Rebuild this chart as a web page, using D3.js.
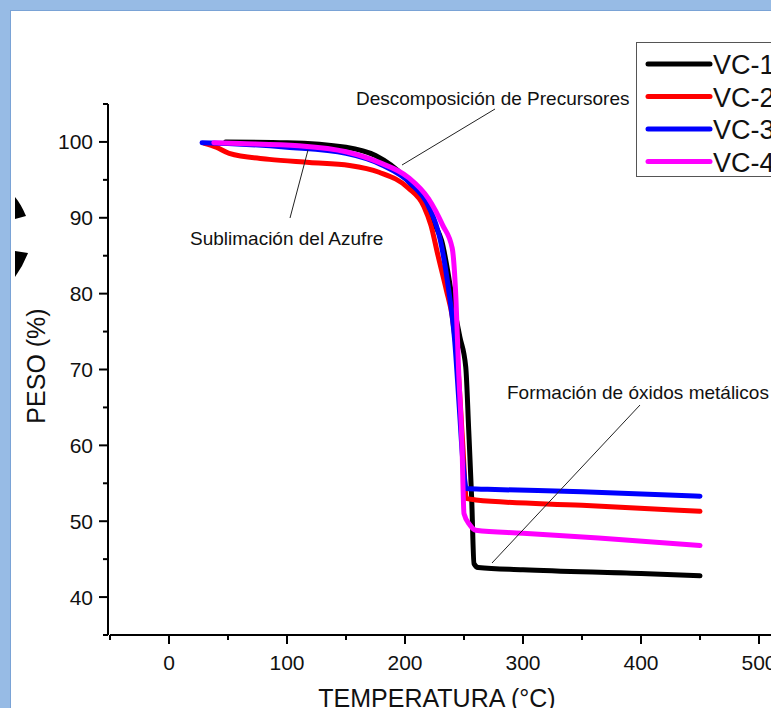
<!DOCTYPE html>
<html>
<head>
<meta charset="utf-8">
<script src="https://cdn.jsdelivr.net/npm/d3@7"></script>
<style>
  body { margin: 0; background: #fff; }
  text { font-family: "Liberation Sans", Arial, sans-serif; fill: #111; }
</style>
</head>
<body>
<div id="chart"></div>
<script>
// temperatures (°C) and weights (%)
var tempVC1 = [48, 100, 150, 175, 200, 215, 225, 231, 241.5, 246.5, 251.5, 254, 256.5, 258.5, 262, 300, 400, 450]
var pesoVC1 = [100, 99.9, 99.3, 98.2, 95.3, 92.3, 89.2, 87, 78.2, 74.3, 70.3, 62, 53, 44.4, 43.9, 43.6, 43.1, 42.8]

var tempVC2 = [30, 40, 51, 85, 119, 153, 178, 203, 216, 222, 228, 235, 240, 245, 249, 252, 260, 350, 450]
var pesoVC2 = [99.8, 99.3, 98.5, 97.7, 97.3, 96.9, 96.0, 93.9, 91.5, 89.0, 85.0, 80.5, 77, 70, 60, 53, 52.8, 52.1, 51.3]

var tempVC3 = [28, 50, 100, 150, 180, 205, 220, 230, 237, 242, 246, 249, 252, 270, 350, 450]
var pesoVC3 = [99.9, 99.8, 99.3, 98.5, 97.0, 94.5, 91.5, 87, 80.5, 74, 65, 58, 54.3, 54.2, 53.9, 53.3]

var tempVC4 = [38, 60, 110, 150, 178, 203, 220, 232, 240, 243.2, 245.4, 248.3, 250, 255, 260, 300, 364, 450]
var pesoVC4 = [99.9, 99.8, 99.5, 98.7, 97.3, 95.3, 92.5, 89, 86, 79.2, 70, 60, 51, 49.5, 48.8, 48.4, 47.8, 46.8]

var seriesNames = ["VC-1", "VC-2", "VC-3", "VC-4"]
var seriesColors = ["#000000", "#ff0000", "#0000ff", "#ff00ff"]

var xMajorTicks = [0, 100, 200, 300, 400, 500]
var xMinorTicks = [-50, 50, 150, 250, 350, 450, 550]
var yMajorTicks = [40, 50, 60, 70, 80, 90, 100]
var yMinorTicks = [35, 45, 55, 65, 75, 85, 95, 105]

var notes = [
  { text: "Descomposición de Precursores", tx: 356, ty: 105, from: [495, 109], to: [402, 165] },
  { text: "Sublimación del Azufre", tx: 190, ty: 245, from: [308, 150], to: [290, 218] },
  { text: "Formación de óxidos metálicos", tx: 507, ty: 399, from: [640, 405], to: [492, 563] }
]

var W = 771, H = 708

var svg = d3.select("#chart").append("svg")
  .attr("width", W)
  .attr("height", H)

// window frame (blue border top and left)
svg.append("rect").attr("x", 0).attr("y", 0).attr("width", W).attr("height", 10).attr("fill", "#97bbe5")
svg.append("rect").attr("x", 0).attr("y", 0).attr("width", 10).attr("height", H).attr("fill", "#97bbe5")
svg.append("line").attr("x1", 10).attr("x2", W).attr("y1", 10.5).attr("y2", 10.5).attr("stroke", "#7aa3d6").attr("stroke-width", 1)
svg.append("line").attr("x1", 10.5).attr("x2", 10.5).attr("y1", 10).attr("y2", H).attr("stroke", "#7aa3d6").attr("stroke-width", 1)

// black wedges at left edge
svg.append("path").attr("d", "M15,197 Q21,204 26,216 L15,219 Z").attr("fill", "#000")
svg.append("path").attr("d", "M15,251 L28,253 Q23,266 15,277 Z").attr("fill", "#000")

var x = d3.scaleLinear().domain([0, 500]).range([169, 759])
var y = d3.scaleLinear().domain([35, 105]).range([635, 104])

// x axis
var xAxisG = svg.append("g").attr("transform", "translate(0," + y(35) + ")")
xAxisG.append("line")
  .attr("x1", x(-50)).attr("x2", W)
  .attr("stroke", "#000").attr("stroke-width", 2)
xAxisG.selectAll(".maj").data(xMajorTicks).enter().append("line")
  .attr("x1", function(d) { return x(d) }).attr("x2", function(d) { return x(d) })
  .attr("y1", 0).attr("y2", 9)
  .attr("stroke", "#000").attr("stroke-width", 2)
xAxisG.selectAll(".min").data(xMinorTicks).enter().append("line")
  .attr("x1", function(d) { return x(d) }).attr("x2", function(d) { return x(d) })
  .attr("y1", 0).attr("y2", 5)
  .attr("stroke", "#000").attr("stroke-width", 2)
xAxisG.selectAll("text").data(xMajorTicks).enter().append("text")
  .attr("x", function(d) { return x(d) })
  .attr("y", 35)
  .attr("text-anchor", "middle")
  .style("font-size", "21px")
  .text(function(d) { return d })

// y axis
var yAxisG = svg.append("g").attr("transform", "translate(108,0)")
yAxisG.append("line")
  .attr("y1", y(105)).attr("y2", y(35))
  .attr("stroke", "#000").attr("stroke-width", 2)
yAxisG.selectAll(".maj").data(yMajorTicks).enter().append("line")
  .attr("y1", function(d) { return y(d) }).attr("y2", function(d) { return y(d) })
  .attr("x1", 0).attr("x2", -9)
  .attr("stroke", "#000").attr("stroke-width", 2)
yAxisG.selectAll(".min").data(yMinorTicks).enter().append("line")
  .attr("y1", function(d) { return y(d) }).attr("y2", function(d) { return y(d) })
  .attr("x1", 0).attr("x2", -5)
  .attr("stroke", "#000").attr("stroke-width", 2)
yAxisG.selectAll("text").data(yMajorTicks).enter().append("text")
  .attr("x", -15)
  .attr("y", function(d) { return y(d) + 7.5 })
  .attr("text-anchor", "end")
  .style("font-size", "21px")
  .text(function(d) { return d })

// axis titles
svg.append("text")
  .attr("transform", "translate(45,366) rotate(-90)")
  .attr("text-anchor", "middle")
  .style("font-size", "25px")
  .text("PESO (%)")
svg.append("text")
  .attr("x", 437).attr("y", 707)
  .attr("text-anchor", "middle")
  .style("font-size", "25px")
  .text("TEMPERATURA (°C)")

// curves
var allSeries = [
  { t: tempVC1, p: pesoVC1 },
  { t: tempVC2, p: pesoVC2 },
  { t: tempVC3, p: pesoVC3 },
  { t: tempVC4, p: pesoVC4 }
]
var line = d3.line()
  .x(function(d) { return x(d[0]) })
  .y(function(d) { return y(d[1]) })
  .curve(d3.curveMonotoneX)

svg.append("g").selectAll("path")
  .data(allSeries)
  .enter()
  .append("path")
    .attr("d", function(s) { return line(d3.zip(s.t, s.p)) })
    .attr("fill", "none")
    .attr("stroke", function(s, i) { return seriesColors[i] })
    .attr("stroke-width", 5)
    .attr("stroke-linecap", "round")
    .attr("stroke-linejoin", "round")

// annotations
var noteG = svg.append("g")
noteG.selectAll("line").data(notes).enter().append("line")
  .attr("x1", function(d) { return d.from[0] }).attr("y1", function(d) { return d.from[1] })
  .attr("x2", function(d) { return d.to[0] }).attr("y2", function(d) { return d.to[1] })
  .attr("stroke", "#222").attr("stroke-width", 1)
noteG.selectAll("text").data(notes).enter().append("text")
  .attr("x", function(d) { return d.tx })
  .attr("y", function(d) { return d.ty })
  .style("font-size", "19px")
  .text(function(d) { return d.text })

// legend
var legend = svg.append("g")
legend.append("rect")
  .attr("x", 636.5).attr("y", 42.5)
  .attr("width", 200).attr("height", 134)
  .attr("fill", "#fff").attr("stroke", "#555").attr("stroke-width", 1)
var legendRows = legend.selectAll(".row").data(seriesNames).enter().append("g")
  .attr("transform", function(d, i) { return "translate(0," + (64 + i * 32.5) + ")" })
legendRows.append("line")
  .attr("x1", 648).attr("x2", 710)
  .attr("stroke", function(d, i) { return seriesColors[i] })
  .attr("stroke-width", 5)
  .attr("stroke-linecap", "round")
legendRows.append("text")
  .attr("x", 713).attr("y", 10)
  .style("font-size", "27px")
  .text(function(d) { return d })
</script>
</body>
</html>
